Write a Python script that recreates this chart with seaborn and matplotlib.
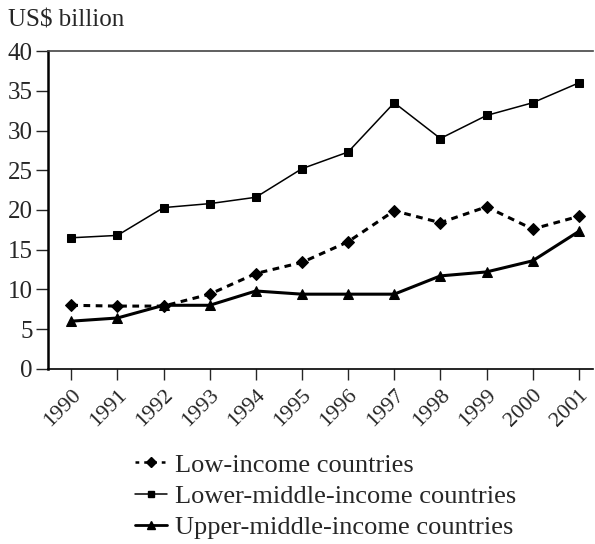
import pandas as pd
import seaborn as sns
import matplotlib.pyplot as plt
from matplotlib.lines import Line2D

years = list(range(1990, 2002))
low_income = [8.0, 7.9, 7.9, 9.4, 12.0, 13.4, 16.0, 19.9, 18.4, 20.4, 17.6, 19.2]
lower_middle = [16.5, 16.8, 20.3, 20.8, 21.6, 25.2, 27.3, 33.5, 29.0, 31.9, 33.5, 36.0]
upper_middle = [6.0, 6.4, 8.0, 8.0, 9.8, 9.4, 9.4, 9.4, 11.7, 12.2, 13.6, 17.3]
series_names = ["Low-income countries", "Lower-middle-income countries",
                "Upper-middle-income countries"]

sns.set_style("white")
plt.rcParams['font.family'] = ['Liberation Serif', 'DejaVu Serif']

fig = plt.figure(figsize=(5.95, 5.44), dpi=100)
ax = fig.add_axes([0.081, 0.322, 0.915, 0.584])

df = pd.DataFrame({"year": years, "low": low_income,
                   "lower": lower_middle, "upper": upper_middle})

sns.lineplot(data=df, x="year", y="low", ax=ax, color="black", lw=2.2,
             linestyle=(0, (2.2, 1.8)), marker="D", markersize=6, mec="black")
sns.lineplot(data=df, x="year", y="lower", ax=ax, color="black", lw=1.1,
             marker="s", markersize=6, mec="black")
sns.lineplot(data=df, x="year", y="upper", ax=ax, color="black", lw=2.2,
             marker="^", markersize=7.5, mec="black")

ax.set_xlim(1989.5, 2001.3)
ax.set_ylim(0, 40)
ax.set_yticks(range(0, 41, 5))
ax.set_xticks(years)
ax.set_xticklabels([str(y) for y in years], rotation=45, ha="right",
                   rotation_mode="anchor", fontsize=16)
ax.tick_params(axis="y", labelsize=18, length=9, width=1, direction="out", left=True, pad=2)
ax.tick_params(axis="x", length=8, width=1, direction="out", bottom=True, pad=4)
ax.set_xlabel("")
ax.set_ylabel("")

for s in ["left", "bottom", "top"]:
    ax.spines[s].set_color("black")
ax.spines["left"].set_linewidth(1.8)
ax.spines["bottom"].set_linewidth(1.2)
ax.spines["top"].set_linewidth(1.2)
ax.spines["top"].set_color("#444444")
ax.spines["right"].set_visible(False)

fig.text(0.013, 0.952, "US$ billion", fontsize=18)

handles = [
    Line2D([], [], color="black", lw=1.8, linestyle=(0, (1.5, 2)), marker="D", markersize=5),
    Line2D([], [], color="black", lw=1.1, marker="s", markersize=5),
    Line2D([], [], color="black", lw=2.0, marker="^", markersize=6),
]
fig.legend(handles, series_names, loc="upper left", bbox_to_anchor=(0.227, 0.167),
           frameon=False, fontsize=19, handlelength=1.2, handletextpad=0.3,
           labelspacing=0.3, borderpad=0, borderaxespad=0)

fig.savefig("out.png", dpi=100)
